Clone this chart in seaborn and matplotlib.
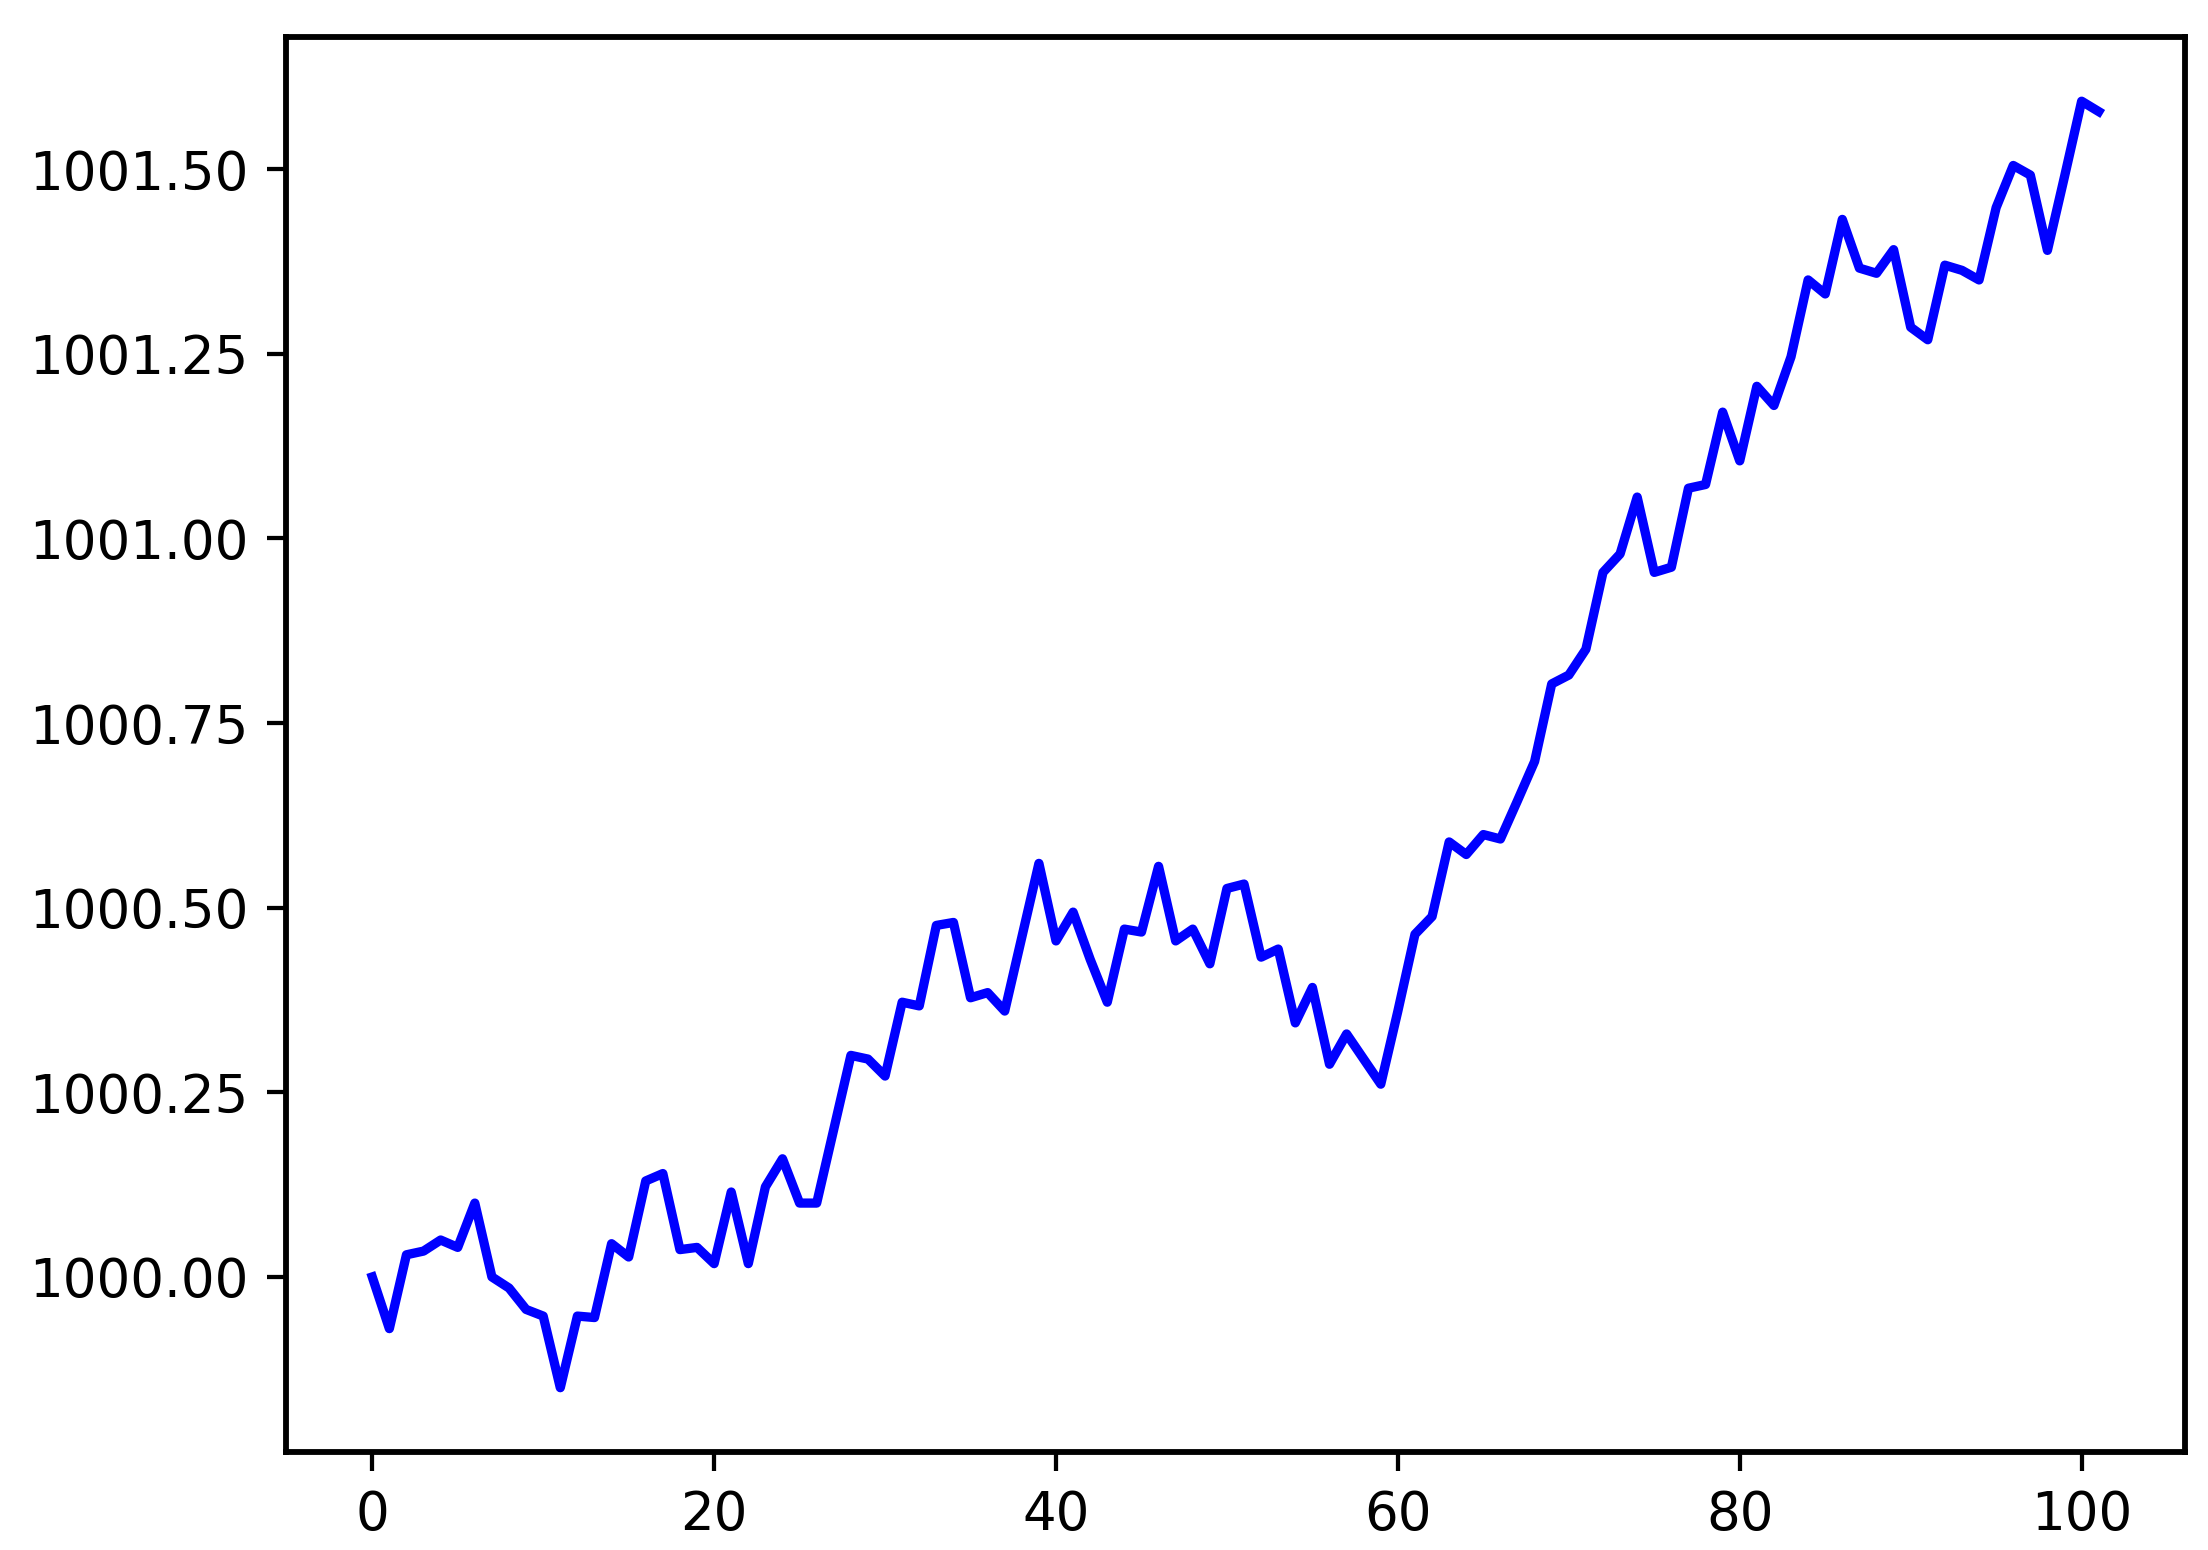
import numpy as np
import pandas as pd
import seaborn as sns
import matplotlib
matplotlib.use("Agg")
import matplotlib.pyplot as plt

# values, one per step 0..101
steps = list(range(102))
values = [
    1000.000, 999.930, 1000.030, 1000.035, 1000.050, 1000.040, 1000.100, 1000.000,
    999.985, 999.956, 999.947, 999.850, 999.947, 999.945, 1000.045, 1000.027,
    1000.130, 1000.140, 1000.037, 1000.040, 1000.018, 1000.115, 1000.018, 1000.122,
    1000.160, 1000.100, 1000.100, 1000.200, 1000.300, 1000.295, 1000.272, 1000.372,
    1000.367, 1000.476, 1000.480, 1000.378, 1000.385, 1000.360, 1000.460, 1000.560,
    1000.455, 1000.494, 1000.430, 1000.372, 1000.471, 1000.467, 1000.556, 1000.455,
    1000.471, 1000.424, 1000.526, 1000.532, 1000.433, 1000.444, 1000.344, 1000.392,
    1000.288, 1000.329, 1000.295, 1000.261, 1000.360, 1000.464, 1000.488, 1000.589,
    1000.572, 1000.599, 1000.593, 1000.645, 1000.698, 1000.803, 1000.815, 1000.850,
    1000.954, 1000.979, 1001.056, 1000.954, 1000.961, 1001.068, 1001.073, 1001.171,
    1001.105, 1001.206, 1001.180, 1001.246, 1001.350, 1001.331, 1001.432, 1001.366,
    1001.359, 1001.391, 1001.286, 1001.269, 1001.370, 1001.363, 1001.350, 1001.448,
    1001.505, 1001.492, 1001.390, 1001.490, 1001.592, 1001.578,
]

df = pd.DataFrame({"step": steps, "value": values})

dpi = 382
fig = plt.figure(figsize=(2208 / dpi, 1550 / dpi), dpi=dpi)
ax = fig.add_axes([0.1295, 0.0632, 0.8601, 0.9130])

sns.lineplot(data=df, x="step", y="value", color="blue", linewidth=1.75, ax=ax)

ax.ticklabel_format(axis="y", useOffset=False)
ax.set_xlabel("")
ax.set_ylabel("")
for s in ax.spines.values():
    s.set_linewidth(1.1)

fig.savefig("out.png", dpi=dpi)
